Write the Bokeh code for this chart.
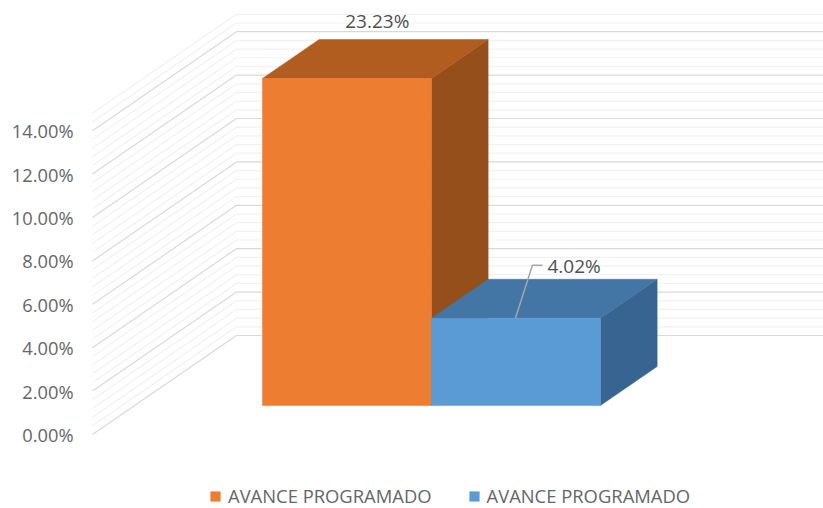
from bokeh.plotting import figure
from bokeh.models import FixedTicker, PrintfTickFormatter, Legend, LegendItem
from bokeh.core.properties import value
from bokeh.embed import file_html
from bokeh.resources import INLINE

# --- data ---
series_names = ["AVANCE PROGRAMADO", "AVANCE PROGRAMADO"]
bar_values = [23.23, 4.02]
bar_labels = ["23.23%", "4.02%"]
axis_cap = 15.07            # the tallest bar is cut off by the value axis
major_ticks = [0, 2, 4, 6, 8, 10, 12, 14]
minor_ticks = [round(i * 0.4, 1) for i in range(38) if i % 5 != 0]
front_colors = ["#ED7D31", "#5B9BD5"]
top_colors = ["#B25D20", "#4375A5"]
side_colors = ["#954F1B", "#376490"]

# --- layout of the oblique projection (in axis units) ---
FONT = "Open Sans"
DX, DY = 0.852, 4.562       # shift of the whole depth of the floor
D0, D1 = 29 / 99, 68 / 99   # depth of bar front and back
BASE_X = -0.25              # left edge of the first bar at depth 0
WALL_LEFT = -1.006


def proj(x, v, d):
    return x + DX * d, v + DY * d


W, H = 823, 508
LEFT = 80
p = figure(width=W, height=H, output_backend="svg", toolbar_location=None,
           x_range=((LEFT - 262) / 169, (W - 262) / 169),
           y_range=((434 - H) / 21.7, 434 / 21.7),
           min_border_left=LEFT, min_border_right=0, min_border_top=0, min_border_bottom=0,
           outline_line_color=None, background_fill_color="white", border_fill_color="white")
p.xaxis.visible = False
p.grid.visible = False
ax = p.yaxis[0]
ax.ticker = FixedTicker(ticks=major_ticks)
ax.formatter = PrintfTickFormatter(format="%.2f%%")
ax.axis_line_color = None
ax.major_tick_line_color = None
ax.minor_tick_line_color = None
ax.major_tick_out = 0
ax.major_label_standoff = 7
ax.major_label_text_font = FONT
ax.major_label_text_font_size = "18.3px"
ax.major_label_text_color = "#666666"

# --- wall and floor grid ---
XR = p.x_range.end


def grid_paths(ticks):
    xs, ys = [], []
    for t in ticks:
        xs.append([WALL_LEFT, WALL_LEFT + DX, XR])
        ys.append([t, t + DY, t + DY])
    return xs, ys


xs, ys = grid_paths(minor_ticks)
p.multi_line(xs, ys, line_color="#F1F1F1", line_width=1.2)
xs, ys = grid_paths(major_ticks)
p.multi_line(xs, ys, line_color="#D9D9D9", line_width=1.2)

# --- bars ---
fronts = []
for i, v in enumerate(bar_values):
    h = min(v, axis_cap)
    l, r = BASE_X + i, BASE_X + i + 1
    f = [proj(l, 0, D0), proj(r, 0, D0), proj(r, h, D0), proj(l, h, D0)]
    t = [proj(l, h, D0), proj(r, h, D0), proj(r, h, D1), proj(l, h, D1)]
    s = [proj(r, 0, D0), proj(r, 0, D1), proj(r, h, D1), proj(r, h, D0)]
    for poly, col in ((s, side_colors[i]), (t, top_colors[i])):
        p.patch([c[0] for c in poly], [c[1] for c in poly], fill_color=col, line_color=col, line_width=0.5)
    fronts.append(p.patch([c[0] for c in f], [c[1] for c in f],
                          fill_color=front_colors[i], line_color=front_colors[i], line_width=0.5))

# --- data labels ---
x0, _ = proj(BASE_X + 0.5, 0, (D0 + D1) / 2)
_, y0 = proj(BASE_X, min(bar_values[0], axis_cap), D1)
p.text([x0], [y0], text=[bar_labels[0]], text_font=value(FONT), text_font_size="19px",
       text_color="#505050", text_align="center", text_baseline="middle", y_offset=-18, x_offset=2)

# leader line for the second bar
bx, by = proj(BASE_X + 1, bar_values[1], D0)
u = 1 / 169
w = 1 / 21.7
lx = [bx + 84 * u, bx + 101 * u, bx + 111 * u]
ly = [by, by + 53 * w, by + 53 * w]
p.line(lx, ly, line_color="#A6A6A6", line_width=1.5)
p.text([lx[-1]], [ly[-1]], text=[bar_labels[1]], text_font=value(FONT), text_font_size="19px",
       text_color="#505050", text_align="left", text_baseline="middle", x_offset=5, y_offset=1)

# --- legend ---
legend = Legend(items=[LegendItem(label=value(series_names[i]), renderers=[fronts[i]]) for i in range(2)],
                orientation="horizontal", location=(129, 0), spacing=36, padding=0, margin=0,
                glyph_width=12, glyph_height=12, label_standoff=7,
                label_text_font=FONT, label_text_font_size="18.4px", label_text_color="#666666",
                background_fill_alpha=0, border_line_color=None)
p.add_layout(legend)

open("out.html", "w").write(file_html(p, INLINE))
